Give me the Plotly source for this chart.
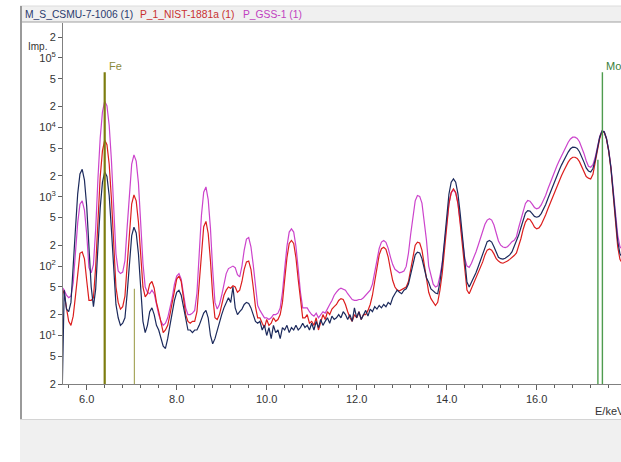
import math
import plotly.graph_objects as go

# ---------------- data ----------------
energy_start_kev = 5.45
energy_step_kev = 0.05

navy_counts = [
    1, 45, 24, 22, 30, 87, 340, 1100, 2130, 2480,
    1730, 730, 205, 50, 26, 47, 190, 690, 1610, 2280,
    1960, 1030, 330, 80, 28, 18, 14, 15, 18, 41,
    120, 275, 363, 300, 150, 47, 16, 11, 14, 22,
    25, 20, 14, 12, 9, 7, 6.5, 9, 14, 22,
    32, 42, 45, 38, 25, 16, 12, 12, 11, 12,
    12, 14, 17, 21, 23, 18, 10, 7.6, 9, 12,
    15, 20, 25, 30, 35, 30, 50, 25, 20, 22,
    24, 28, 30, 29, 25, 20, 16, 15, 16, 12,
    14, 10, 13, 9, 14, 11, 12, 9, 13, 12,
    14, 11, 13, 12, 14, 12, 13, 15, 13, 14,
    12, 15, 12, 16, 13, 17, 14, 16, 18, 15,
    19, 17, 18, 20, 18, 22, 20, 17, 20, 16,
    25, 18, 22, 17, 20, 23, 19, 24, 22, 26,
    24, 27, 25, 28, 26, 30, 28, 35, 40, 45,
    42, 40, 45, 47, 55, 75, 110, 145, 159, 155,
    128, 95, 68, 58, 47, 44, 41, 40, 59, 105,
    245, 570, 1095, 1620, 1810, 1620, 1095, 570, 245, 105,
    59, 50, 58, 66, 80, 98, 122, 155, 195, 225,
    234, 222, 190, 155, 134, 128, 126, 130, 136, 145,
    160, 190, 225, 280, 360, 470, 580, 630, 620, 570,
    520, 506, 520, 570, 650, 770, 940, 1150, 1400, 1680,
    2000, 2400, 2850, 3350, 3850, 4400, 4900, 5160, 5150, 4950,
    4450, 3800, 3150, 2600, 2350, 2270, 2550, 3400, 5000, 7200,
    8800, 8600, 6900, 4600, 2600, 1250, 550, 230, 150, 135,
]

red_counts = [
    48, 40, 25, 16, 14, 19, 37, 86, 153, 160,
    127, 62, 32, 32, 35, 100, 510, 1940, 4580, 6530,
    5610, 2930, 920, 190, 50, 30, 24, 26, 37, 105,
    340, 790, 1060, 870, 430, 140, 50, 36, 40, 55,
    60, 48, 30, 22, 15, 11, 12, 14, 20, 30,
    45, 65, 72, 60, 35, 20, 16, 15, 16, 16,
    22, 58, 180, 370, 440, 295, 120, 37, 18, 17,
    20, 28, 38, 45, 50, 48, 52, 50, 42, 45,
    60, 90, 115, 118, 90, 50, 26, 18, 18, 15,
    13, 17, 14, 15, 18, 16, 17, 20, 30, 64,
    132, 212, 234, 212, 132, 64, 30, 18, 18, 20,
    15, 16, 14, 18, 12, 15, 20, 17, 22, 20,
    24, 26, 28, 32, 34, 33, 28, 22, 18, 16,
    20, 18, 22, 17, 20, 20, 23, 28, 38, 60,
    100, 145, 178, 187, 175, 135, 90, 62, 50, 45,
    44, 46, 48, 50, 60, 88, 140, 200, 221, 215,
    170, 110, 65, 42, 34, 30, 27, 30, 45, 78,
    180, 410, 790, 1150, 1300, 1150, 790, 410, 180, 78,
    45, 40, 48, 55, 65, 78, 95, 115, 145, 170,
    177, 170, 150, 128, 118, 112, 110, 113, 118, 125,
    132, 142, 155, 190, 250, 340, 430, 480, 470, 420,
    365, 344, 355, 395, 460, 550, 670, 810, 990, 1200,
    1430, 1700, 2000, 2350, 2750, 3150, 3500, 3700, 3700, 3550,
    3200, 2750, 2300, 1950, 1850, 1800, 2100, 3000, 4600, 6900,
    8600, 8500, 6800, 4500, 2500, 1150, 480, 190, 125, 110,
]

magenta_counts = [
    50, 45, 38, 35, 37, 57, 155, 420, 780, 870,
    640, 290, 95, 80, 105, 345, 1830, 7000, 16600, 23800,
    20400, 10600, 3300, 680, 150, 85, 78, 82, 120, 370,
    1280, 2950, 4000, 3250, 1570, 450, 110, 50, 42, 40,
    45, 40, 28, 20, 16, 14, 15, 18, 25, 35,
    55, 72, 78, 65, 40, 25, 20, 20, 21, 23,
    41, 156, 540, 1160, 1380, 910, 350, 88, 30, 24,
    28, 38, 55, 78, 92, 95, 100, 95, 75, 70,
    100, 170, 245, 258, 190, 105, 48, 27, 23, 20,
    18, 18, 17, 18, 20, 20, 21, 25, 42, 92,
    192, 309, 344, 309, 192, 92, 42, 25, 25, 25,
    22, 20, 19, 21, 18, 20, 22, 21, 25, 28,
    32, 38, 42, 46, 48, 47, 45, 40, 36, 33,
    32, 32, 33, 33, 35, 38, 42, 45, 55, 80,
    125, 180, 222, 234, 220, 180, 135, 105, 90, 85,
    80, 82, 85, 99, 153, 290, 548, 870, 1040, 1010,
    808, 465, 237, 100, 74, 55, 50, 52, 72, 110,
    210, 430, 800, 1130, 1250, 1130, 810, 440, 220, 130,
    100, 96, 110, 130, 160, 200, 250, 320, 400, 460,
    480, 460, 390, 300, 230, 200, 188, 185, 190, 205,
    225, 235, 265, 360, 480, 640, 800, 880, 860, 780,
    700, 670, 690, 760, 880, 1050, 1300, 1600, 1950, 2350,
    2800, 3300, 3900, 4600, 5300, 6100, 6800, 7200, 7200, 6900,
    6200, 5200, 4200, 3300, 2750, 2660, 2900, 3700, 5300, 7400,
    8900, 8700, 7000, 4700, 2700, 1300, 600, 280, 190, 175,
]

energy_kev = [round(energy_start_kev + energy_step_kev * i, 2) for i in range(len(navy_counts))]

series_names = ["M_S_CSMU-7-1006 (1)", "P_1_NIST-1881a (1)", "P_GSS-1 (1)"]

# element marker lines: energy (keV) and top (counts)
fe_line_kev = [6.40, 7.06]
fe_line_top = [62000, 47]
mo_line_kev = [17.36, 17.46]
mo_line_top = [3400, 62000]

x_tick_vals = [6.0, 8.0, 10.0, 12.0, 14.0, 16.0]
x_tick_text = ["6.0", "8.0", "10.0", "12.0", "14.0", "16.0"]
x_minor_vals = [round(5.6 + 0.4 * i, 1) for i in range(31)]

y_tick_vals = [2, 5, 10, 20, 50, 100, 200, 500, 1000, 2000, 5000,
               10000, 20000, 50000, 100000, 200000]
y_tick_text = ["2", "5", "10<sup>1</sup>", "2", "5", "10<sup>2</sup>", "2", "5",
               "10<sup>3</sup>", "2", "5", "10<sup>4</sup>", "2", "5",
               "10<sup>5</sup>", "2"]

# ---------------- styles ----------------
NAVY = "#1c2a5c"
RED = "#dc1e1e"
MAGENTA = "#cc44cc"
FONT = "Liberation Sans"

W, H = 621, 462
ML, MT, MB = 63, 23, 78
PW, PH = W - ML, H - MT - MB


def px_x(px):
    return (px - ML) / PW


def px_y(py):
    return 1 - (py - MT) / PH


fig = go.Figure()

for name, vals, col in [(series_names[2], magenta_counts, MAGENTA),
                        (series_names[1], red_counts, RED),
                        (series_names[0], navy_counts, NAVY)]:
    fig.add_trace(go.Scatter(x=energy_kev, y=vals, mode="lines", name=name,
                             line=dict(color=col, width=1.2), hoverinfo="skip"))

# Fe lines
fig.add_trace(go.Scatter(x=[fe_line_kev[0], fe_line_kev[0]], y=[1, fe_line_top[0]],
                         mode="lines", line=dict(color="#7d7d10", width=2.2), hoverinfo="skip"))
fig.add_trace(go.Scatter(x=[fe_line_kev[1], fe_line_kev[1]], y=[1, fe_line_top[1]],
                         mode="lines", line=dict(color="#a8a860", width=1.2), hoverinfo="skip"))
# Mo lines
for e, t in zip(mo_line_kev, mo_line_top):
    fig.add_trace(go.Scatter(x=[e, e], y=[1, t], mode="lines",
                             line=dict(color="#4e9c4e", width=1.4), hoverinfo="skip"))

x_range = [6.0 - (86.7 - ML) / 45.0, 6.0 - (86.7 - ML) / 45.0 + PW / 45.0]
y_lo = math.log10(2)
y_range = [y_lo, y_lo + PH / 69.4]

shapes = [
    # header band
    dict(type="rect", xref="paper", yref="paper", x0=px_x(20), x1=px_x(625),
         y0=px_y(22), y1=px_y(6), fillcolor="#f0f0f0", line=dict(width=0), layer="below"),
    dict(type="line", xref="paper", yref="paper", x0=px_x(20), x1=px_x(625),
         y0=px_y(6), y1=px_y(6), line=dict(color="#dcdcdc", width=1)),
    dict(type="line", xref="paper", yref="paper", x0=px_x(20), x1=px_x(625),
         y0=px_y(22), y1=px_y(22), line=dict(color="#a0a0a0", width=1)),
    # left frame
    dict(type="line", xref="paper", yref="paper", x0=px_x(21), x1=px_x(21),
         y0=px_y(6), y1=px_y(419), line=dict(color="#9a9a9a", width=2)),
    # bottom grey band
    dict(type="rect", xref="paper", yref="paper", x0=px_x(20), x1=px_x(625),
         y0=px_y(462), y1=px_y(420), fillcolor="#f0f0f0", line=dict(width=0), layer="below"),
    dict(type="line", xref="paper", yref="paper", x0=px_x(20), x1=px_x(625),
         y0=px_y(419.5), y1=px_y(419.5), line=dict(color="#d4d4d4", width=1)),
]

LEG = 10.3
annotations = [
    dict(text=series_names[0], xref="paper", yref="paper", x=px_x(23), y=px_y(14),
         xanchor="left", yanchor="middle", showarrow=False,
         font=dict(family=FONT, size=LEG, color="#2a3a6e")),
    dict(text=series_names[1], xref="paper", yref="paper", x=px_x(138), y=px_y(14),
         xanchor="left", yanchor="middle", showarrow=False,
         font=dict(family=FONT, size=LEG, color="#c83030")),
    dict(text=series_names[2], xref="paper", yref="paper", x=px_x(241), y=px_y(14),
         xanchor="left", yanchor="middle", showarrow=False,
         font=dict(family=FONT, size=LEG, color="#c040c0")),
    dict(text="Imp.", xref="paper", yref="paper", x=px_x(26), y=px_y(46),
         xanchor="left", yanchor="middle", showarrow=False,
         font=dict(family=FONT, size=10, color="#333333")),
    dict(text="E/keV", xref="paper", yref="paper", x=px_x(593), y=px_y(411),
         xanchor="left", yanchor="middle", showarrow=False,
         font=dict(family=FONT, size=11, color="#333333")),
    dict(text="Fe", xref="x", yref="paper", x=fe_line_kev[0], y=px_y(66), xshift=2,
         xanchor="left", yanchor="middle", showarrow=False,
         font=dict(family=FONT, size=11, color="#8a8a3a")),
    dict(text="Mo", xref="x", yref="paper", x=mo_line_kev[1], y=px_y(66), xshift=2,
         xanchor="left", yanchor="middle", showarrow=False,
         font=dict(family=FONT, size=11, color="#3a803a")),
]

fig.update_layout(
    width=W, height=H,
    margin=dict(l=ML, r=0, t=MT, b=MB, pad=0),
    paper_bgcolor="white", plot_bgcolor="white",
    showlegend=False,
    shapes=shapes,
    annotations=annotations,
    font=dict(family=FONT, size=11, color="#333333"),
    xaxis=dict(range=x_range, showgrid=False, zeroline=False,
               showline=True, linecolor="#808080", linewidth=1,
               tickmode="array", tickvals=x_tick_vals, ticktext=x_tick_text,
               ticks="outside", ticklen=5, tickcolor="#606060", tickwidth=1,
               tickfont=dict(family=FONT, size=11, color="#333333"),
               minor=dict(tickmode="array", tickvals=x_minor_vals, ticks="outside",
                          ticklen=3, tickcolor="#606060", showgrid=False)),
    yaxis=dict(type="log", range=y_range, showgrid=False, zeroline=False,
               showline=True, linecolor="#808080", linewidth=1,
               tickmode="array", tickvals=y_tick_vals, ticktext=y_tick_text,
               ticks="outside", ticklen=4, tickcolor="#606060", tickwidth=1,
               tickfont=dict(family=FONT, size=11, color="#333333")),
)

fig.write_html("out.html")
